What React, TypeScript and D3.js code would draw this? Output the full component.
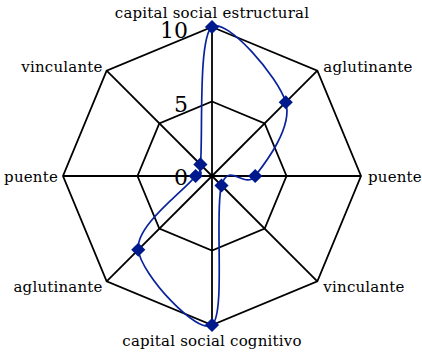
import React from "react";
import * as d3 from "d3";

const categories = [
  "capital social estructural",
  "aglutinante",
  "puente",
  "vinculante",
  "capital social cognitivo",
  "aglutinante",
  "puente",
  "vinculante",
];
const values = [10, 7, 2.9, 0.9, 10, 7, 1.1, 1.1];
const ringValues = [5, 10];
const tickLabels = ["0", "5", "10"];
const tickValues = [0, 5, 10];

const W = 422;
const H = 355;
const cx = 212;
const cy = 176;
const R = 149;
const lineColor = "#0a239c";
const markerColor = "#001a8e";
const font = "'DejaVu Serif', serif";

export default function App() {
  const r = d3.scaleLinear().domain([0, 10]).range([0, R]);
  const n = categories.length;
  const ang = (i: number) => (i * 2 * Math.PI) / n;
  const pt = (i: number, v: number): [number, number] => [
    cx + r(v) * Math.sin(ang(i)),
    cy - r(v) * Math.cos(ang(i)),
  ];

  const ringPath = (v: number) =>
    d3.line().curve(d3.curveLinearClosed)(categories.map((_, i) => pt(i, v))) || "";

  const dataPts = values.map((v, i) => pt(i, v));
  const dataPath =
    d3.line().curve(d3.curveCardinalClosed.tension(0))(dataPts) || "";
  const diamond = d3.symbol().type(d3.symbolSquare).size(100)() || "";

  const labelPos = (i: number) => {
    const [x, y] = pt(i, 10);
    const s = Math.sin(ang(i));
    const c = Math.cos(ang(i));
    let anchor: "start" | "middle" | "end" = "middle";
    let dx = 0;
    let dy = 0;
    if (Math.abs(s) < 1e-6) {
      anchor = "middle";
      dy = c > 0 ? -9 : 21;
    } else {
      anchor = s > 0 ? "start" : "end";
      if (Math.abs(c) < 1e-6) {
        dx = s > 0 ? 7 : -5;
        dy = 6;
      } else if (c > 0) {
        dx = s > 0 ? 6 : -4;
        dy = 1.5;
      } else {
        dx = s > 0 ? 6 : -4;
        dy = 11;
      }
    }
    return { x: x + dx, y: y + dy, anchor };
  };

  return (
    <svg width={W} height={H} style={{ position: "absolute", left: 0, top: 0 }}>
      <rect width={W} height={H} fill="#fff" />
      {ringValues.map((v) => (
        <path key={v} d={ringPath(v)} fill="none" stroke="#000" strokeWidth={1.8} strokeLinejoin="miter" />
      ))}
      {categories.map((_, i) => {
        const [x, y] = pt(i, 10);
        return <line key={i} x1={cx} y1={cy} x2={x} y2={y} stroke="#000" strokeWidth={1.8} />;
      })}
      {tickValues.map((v, k) => (
        <text
          key={k}
          x={cx - 24}
          y={cy - r(v) + (v === 0 ? 8.5 : 10.5)}
          textAnchor="end"
          fontFamily={font}
          fontSize={22}
          fill="#000"
        >
          {tickLabels[k]}
        </text>
      ))}
      <path d={dataPath} fill="none" stroke={lineColor} strokeWidth={1.7} />
      {dataPts.map(([x, y], i) => (
        <path key={i} d={diamond} transform={`translate(${x},${y}) rotate(45)`} fill={markerColor} />
      ))}
      {categories.map((c, i) => {
        const p = labelPos(i);
        return (
          <text
            key={i}
            x={p.x}
            y={p.y}
            textAnchor={p.anchor}
            fontFamily={font}
            fontSize={15}
            letterSpacing={0.2}
            fill="#000"
          >
            {c}
          </text>
        );
      })}
    </svg>
  );
}
